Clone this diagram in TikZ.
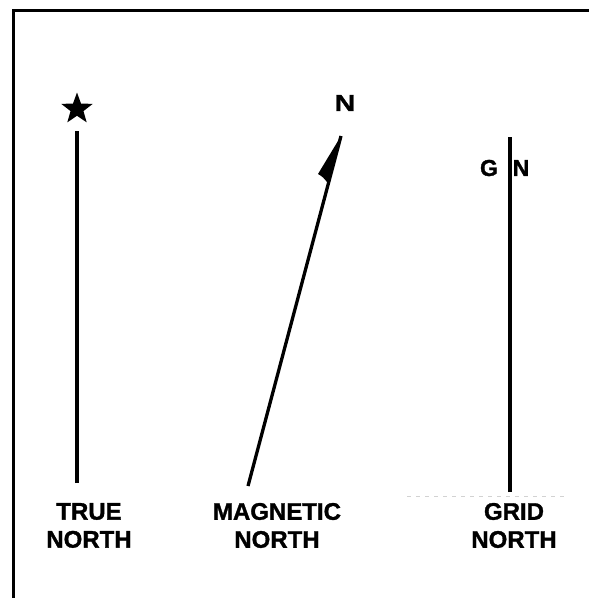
\documentclass[tikz,border=0pt]{standalone}
\usepackage{fontspec}
\setmainfont{Liberation Sans}
\newfontfamily\heavyfont[BoldFeatures={FakeBold=1.3}]{Liberation Sans}
\begin{document}
\begin{tikzpicture}[x=1pt,y=-1pt,
  lbl/.style={font=\heavyfont\bfseries\fontsize{24}{28}\selectfont, align=center, inner sep=0pt},
  letter/.style={font=\heavyfont\bfseries\fontsize{23}{26}\selectfont, inner sep=0pt},
  northline/.style={line width=3.3pt},
  framestyle/.style={line width=3pt}]
\useasboundingbox (0,0) rectangle (589,598);
% frame (top and left edges)
\coordinate (fbl) at (13,599);
\coordinate (ftl) at (13,10);
\coordinate (ftr) at (590,10);
\draw[framestyle] (fbl) -- (ftl) -- (ftr);
% true north
\node[inner sep=0pt, minimum size=1pt] (star) at (77,109) {};
\fill (star.center) +(270:16.5) -- +(306:6.8) -- +(342:16.5) -- +(18:6.8) -- +(54:16.5) -- +(90:6.8) -- +(126:16.5) -- +(162:6.8) -- +(198:16.5) -- +(234:6.8) -- cycle;
\coordinate (tntop) at (77,131);
\coordinate (tnbot) at (77,483);
\draw[northline] (tnbot) -- (tntop);
\node[lbl] (tnlabel) at (89,525.5) {TRUE\\NORTH};
% magnetic north
\coordinate (mnbot) at (248,486);
\coordinate (mntop) at (341,136);
\coordinate (mnbarb) at (318,174);
\coordinate (mnjoin) at (328.5,184);
\draw[northline] (mnbot) -- (mntop);
\fill (mntop) -- (mnbarb) .. controls (323,177) .. (mnjoin) -- cycle;
\node[letter, xscale=1.25] (mnN) at (345,103) {N};
\node[lbl] (mnlabel) at (277,525.5) {MAGNETIC\\NORTH};
% grid north
\coordinate (gntop) at (510,137);
\coordinate (gnbot) at (510,492);
\draw[northline] (gnbot) -- (gntop);
\node[letter] (gG) at (489,168) {G};
\node[letter] (gN) at (521,168) {N};
\node[lbl] (gnlabel) at (514,525.5) {GRID\\NORTH};
% faint scan line
\coordinate (sl) at (407,496);
\coordinate (sr) at (565,496);
\draw[gray!35, line width=1pt, dash pattern=on 4pt off 5pt] (sl) -- (sr);
\end{tikzpicture}
\end{document}
